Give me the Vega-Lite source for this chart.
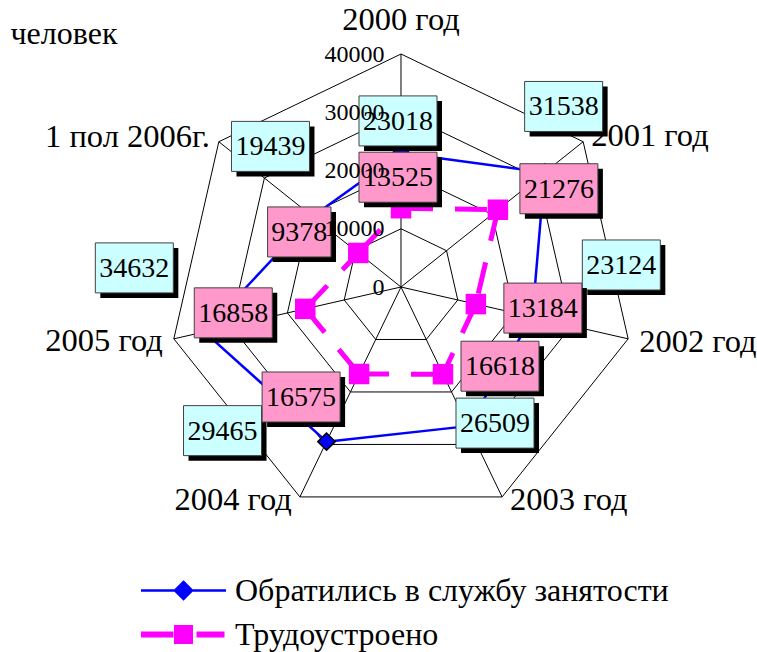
{
"$schema":"https://vega.github.io/schema/vega-lite/v6.json",
"width":757,"height":652,"autosize":{"type":"none"},"padding":0,
"background":"white",
"config":{"view":{"stroke":null},"font":"Liberation Serif"},
"datasets":{
 "series":[
  {"s":"Обратились в службу занятости","k":0,"v":23018},
  {"s":"Обратились в службу занятости","k":1,"v":31538},
  {"s":"Обратились в службу занятости","k":2,"v":23124},
  {"s":"Обратились в службу занятости","k":3,"v":26509},
  {"s":"Обратились в службу занятости","k":4,"v":29465},
  {"s":"Обратились в службу занятости","k":5,"v":34632},
  {"s":"Обратились в службу занятости","k":6,"v":19439},
  {"s":"Трудоустроено","k":0,"v":13525},
  {"s":"Трудоустроено","k":1,"v":21276},
  {"s":"Трудоустроено","k":2,"v":13184},
  {"s":"Трудоустроено","k":3,"v":16618},
  {"s":"Трудоустроено","k":4,"v":16575},
  {"s":"Трудоустроено","k":5,"v":16858},
  {"s":"Трудоустроено","k":6,"v":9378}
 ],
 "cats":[
  {"cat":"2000 год","k":0},{"cat":"2001 год","k":1},{"cat":"2002 год","k":2},{"cat":"2003 год","k":3},
  {"cat":"2004 год","k":4},{"cat":"2005 год","k":5},{"cat":"1 пол 2006г.","k":6}
 ],
 "grid":[
  {"lvl":10000,"k":0},{"lvl":10000,"k":1},{"lvl":10000,"k":2},{"lvl":10000,"k":3},{"lvl":10000,"k":4},{"lvl":10000,"k":5},{"lvl":10000,"k":6},
  {"lvl":20000,"k":0},{"lvl":20000,"k":1},{"lvl":20000,"k":2},{"lvl":20000,"k":3},{"lvl":20000,"k":4},{"lvl":20000,"k":5},{"lvl":20000,"k":6},
  {"lvl":30000,"k":0},{"lvl":30000,"k":1},{"lvl":30000,"k":2},{"lvl":30000,"k":3},{"lvl":30000,"k":4},{"lvl":30000,"k":5},{"lvl":30000,"k":6},
  {"lvl":40000,"k":0},{"lvl":40000,"k":1},{"lvl":40000,"k":2},{"lvl":40000,"k":3},{"lvl":40000,"k":4},{"lvl":40000,"k":5},{"lvl":40000,"k":6}
 ]
},
"encoding":{
 "x":{"field":"px","type":"quantitative","scale":{"domain":[-68841.2,61115.9],"nice":false,"zero":false},
  "axis":{"orient":"top","title":"человек","labels":false,"ticks":false,"domain":false,"grid":false,"titleX":10,"titleY":43,"titleAlign":"left","titleBaseline":"alphabetic","titleAngle":0,"titleFont":"Liberation Serif","titleFontSize":32,"titleFontWeight":"normal","titleColor":"black"}},
 "y":{"field":"py","type":"quantitative","scale":{"domain":[-62660.9,49270.4],"nice":false,"zero":false},
  "axis":{"orient":"left","offset":-384,"values":[0,10000,20000,30000,40000],"format":"d","title":null,"ticks":false,"tickSize":0,"domain":false,"grid":false,"labelPadding":0,"labelFont":"Liberation Serif","labelFontSize":24,"labelColor":"black","labelOverlap":false,"labelFlush":false,"labelAlign":"right","labelBaseline":"middle","zindex":2}}
},
"layer":[
 {"data":{"name":"grid"},
  "transform":[{"calculate":"datum.lvl*sin(2*PI*datum.k/7)","as":"px"},{"calculate":"datum.lvl*cos(2*PI*datum.k/7)","as":"py"}],
  "mark":{"type":"line","interpolate":"linear-closed","stroke":"black","strokeWidth":1},
  "encoding":{"detail":{"field":"lvl","type":"nominal"},"order":{"field":"k","type":"quantitative"}}},
 {"data":{"name":"cats"},
  "transform":[{"calculate":"40000*sin(2*PI*datum.k/7)","as":"px"},{"calculate":"40000*cos(2*PI*datum.k/7)","as":"py"}],
  "layer":[
   {"mark":{"type":"rule","stroke":"black","strokeWidth":1},"encoding":{"x2":{"datum":0},"y2":{"datum":0}}},
   {"transform":[{"filter":"datum.k==0"}],"mark":{"type":"text","align":"center","baseline":"alphabetic","fontSize":32.5,"font":"Liberation Serif","color":"black","dy":-24},"encoding":{"text":{"field":"cat"}}},
   {"transform":[{"filter":"datum.k==1"}],"mark":{"type":"text","align":"left","baseline":"alphabetic","fontSize":32.5,"font":"Liberation Serif","color":"black","dx":8,"dy":4},"encoding":{"text":{"field":"cat"}}},
   {"transform":[{"filter":"datum.k==2"}],"mark":{"type":"text","align":"left","baseline":"alphabetic","fontSize":32.5,"font":"Liberation Serif","color":"black","dx":11,"dy":13},"encoding":{"text":{"field":"cat"}}},
   {"transform":[{"filter":"datum.k==3"}],"mark":{"type":"text","align":"left","baseline":"alphabetic","fontSize":32.5,"font":"Liberation Serif","color":"black","dx":8,"dy":13},"encoding":{"text":{"field":"cat"}}},
   {"transform":[{"filter":"datum.k==4"}],"mark":{"type":"text","align":"right","baseline":"alphabetic","fontSize":32.5,"font":"Liberation Serif","color":"black","dx":-8,"dy":13},"encoding":{"text":{"field":"cat"}}},
   {"transform":[{"filter":"datum.k==5"}],"mark":{"type":"text","align":"right","baseline":"alphabetic","fontSize":32.5,"font":"Liberation Serif","color":"black","dx":-11,"dy":12},"encoding":{"text":{"field":"cat"}}},
   {"transform":[{"filter":"datum.k==6"}],"mark":{"type":"text","align":"right","baseline":"alphabetic","fontSize":32.5,"font":"Liberation Serif","color":"black","dx":-9,"dy":5},"encoding":{"text":{"field":"cat"}}}
  ]},
 {"data":{"name":"series"},
  "transform":[{"calculate":"datum.v*sin(2*PI*datum.k/7)","as":"px"},{"calculate":"datum.v*cos(2*PI*datum.k/7)","as":"py"}],
  "layer":[
   {"transform":[
     {"window":[{"op":"lead","field":"px","as":"lx"},{"op":"lead","field":"py","as":"ly"},{"op":"first_value","field":"px","as":"fx"},{"op":"first_value","field":"py","as":"fy"}],"groupby":["s"],"sort":[{"field":"k","order":"ascending"}],"frame":[null,null]},
     {"calculate":"isValid(datum.lx)?datum.lx:datum.fx","as":"nx"},
     {"calculate":"isValid(datum.ly)?datum.ly:datum.fy","as":"ny"}],
    "encoding":{
     "x2":{"field":"nx"},"y2":{"field":"ny"},
     "color":{"field":"s","type":"nominal","scale":{"domain":["Обратились в службу занятости","Трудоустроено"],"range":["#0000FF","#FF00FF"]},
      "legend":{"title":null,"orient":"none","legendX":167.5,"legendY":574.5,"direction":"vertical","padding":0,"symbolSize":400,"symbolStrokeWidth":2.5,"labelFont":"Liberation Serif","labelFontSize":32,"labelColor":"black","labelOffset":35.5,"labelLimit":0,"rowPadding":9,
       "encode":{"symbols":{"update":{
        "shape":{"signal":"datum.value==='Трудоустроено' ? 'M-4.25,0H-1M1.3,0H4.1M-0.65,-0.65H0.65V0.65H-0.65Z' : 'M-4.25,0H4.25M0,-0.85L0.85,0L0,0.85L-0.85,0Z'"},
        "fill":{"signal":"datum.value==='Трудоустроено' ? '#FF00FF' : '#0000FF'"},
        "stroke":{"signal":"datum.value==='Трудоустроено' ? '#FF00FF' : '#0000FF'"},
        "strokeWidth":{"signal":"datum.value==='Трудоустроено' ? 6 : 2.5"},
        "opacity":{"value":1},"fillOpacity":{"value":1},"strokeOpacity":{"value":1},"strokeCap":{"value":"butt"}}}}}}},
    "layer":[
     {"transform":[{"filter":"datum.s==='Обратились в службу занятости'"}],"mark":{"type":"rule","strokeWidth":2.5}},
     {"transform":[{"filter":"datum.s==='Трудоустроено'"}],"mark":{"type":"rule","strokeWidth":5,"strokeDash":[32,22],"strokeCap":"butt"}}
    ]},
   {"transform":[{"filter":"datum.s==='Обратились в службу занятости'"}],"mark":{"type":"point","shape":"diamond","size":300,"filled":true,"fill":"#0000FF","stroke":"black","strokeWidth":1.5,"opacity":1}},
   {"transform":[{"filter":"datum.s==='Трудоустроено'"}],"mark":{"type":"point","shape":"square","size":420,"filled":true,"fill":"#FF00FF","opacity":1}},

   {"transform":[{"filter":"datum.v==23018"}],"layer":[
    {"mark":{"type":"point","shape":"M-1,-0.641H1V0.641H-1Z","size":6084,"filled":true,"fill":"black","opacity":1,"xOffset":2,"yOffset":-27}},
    {"mark":{"type":"point","shape":"M-1,-0.641H1V0.641H-1Z","size":6084,"filled":true,"fill":"#CCFFFF","stroke":"#404040","strokeWidth":1,"opacity":1,"xOffset":-3,"yOffset":-32}},
    {"mark":{"type":"text","fontSize":28,"font":"Liberation Serif","color":"black","align":"center","baseline":"alphabetic","xOffset":-3,"yOffset":-23},"encoding":{"text":{"field":"v","type":"quantitative","format":"d"}}}]},
   {"transform":[{"filter":"datum.v==31538"}],"layer":[
    {"mark":{"type":"point","shape":"M-1,-0.641H1V0.641H-1Z","size":6084,"filled":true,"fill":"black","opacity":1,"xOffset":24,"yOffset":-61}},
    {"mark":{"type":"point","shape":"M-1,-0.641H1V0.641H-1Z","size":6084,"filled":true,"fill":"#CCFFFF","stroke":"#404040","strokeWidth":1,"opacity":1,"xOffset":19,"yOffset":-66}},
    {"mark":{"type":"text","fontSize":28,"font":"Liberation Serif","color":"black","align":"center","baseline":"alphabetic","xOffset":19,"yOffset":-57},"encoding":{"text":{"field":"v","type":"quantitative","format":"d"}}}]},
   {"transform":[{"filter":"datum.v==23124"}],"layer":[
    {"mark":{"type":"point","shape":"M-1,-0.641H1V0.641H-1Z","size":6084,"filled":true,"fill":"black","opacity":1,"xOffset":94,"yOffset":-47}},
    {"mark":{"type":"point","shape":"M-1,-0.641H1V0.641H-1Z","size":6084,"filled":true,"fill":"#CCFFFF","stroke":"#404040","strokeWidth":1,"opacity":1,"xOffset":89,"yOffset":-52}},
    {"mark":{"type":"text","fontSize":28,"font":"Liberation Serif","color":"black","align":"center","baseline":"alphabetic","xOffset":89,"yOffset":-43},"encoding":{"text":{"field":"v","type":"quantitative","format":"d"}}}]},
   {"transform":[{"filter":"datum.v==26509"}],"layer":[
    {"mark":{"type":"point","shape":"M-1,-0.641H1V0.641H-1Z","size":6084,"filled":true,"fill":"black","opacity":1,"xOffset":32,"yOffset":2}},
    {"mark":{"type":"point","shape":"M-1,-0.641H1V0.641H-1Z","size":6084,"filled":true,"fill":"#CCFFFF","stroke":"#404040","strokeWidth":1,"opacity":1,"xOffset":27,"yOffset":-3}},
    {"mark":{"type":"text","fontSize":28,"font":"Liberation Serif","color":"black","align":"center","baseline":"alphabetic","xOffset":27,"yOffset":6},"encoding":{"text":{"field":"v","type":"quantitative","format":"d"}}}]},
   {"transform":[{"filter":"datum.v==29465"}],"layer":[
    {"mark":{"type":"point","shape":"M-1,-0.641H1V0.641H-1Z","size":6084,"filled":true,"fill":"black","opacity":1,"xOffset":-99,"yOffset":-6}},
    {"mark":{"type":"point","shape":"M-1,-0.641H1V0.641H-1Z","size":6084,"filled":true,"fill":"#CCFFFF","stroke":"#404040","strokeWidth":1,"opacity":1,"xOffset":-104,"yOffset":-11}},
    {"mark":{"type":"text","fontSize":28,"font":"Liberation Serif","color":"black","align":"center","baseline":"alphabetic","xOffset":-104,"yOffset":-2},"encoding":{"text":{"field":"v","type":"quantitative","format":"d"}}}]},
   {"transform":[{"filter":"datum.v==34632"}],"layer":[
    {"mark":{"type":"point","shape":"M-1,-0.641H1V0.641H-1Z","size":6084,"filled":true,"fill":"black","opacity":1,"xOffset":-65,"yOffset":-59}},
    {"mark":{"type":"point","shape":"M-1,-0.641H1V0.641H-1Z","size":6084,"filled":true,"fill":"#CCFFFF","stroke":"#404040","strokeWidth":1,"opacity":1,"xOffset":-70,"yOffset":-64}},
    {"mark":{"type":"text","fontSize":28,"font":"Liberation Serif","color":"black","align":"center","baseline":"alphabetic","xOffset":-70,"yOffset":-55},"encoding":{"text":{"field":"v","type":"quantitative","format":"d"}}}]},
   {"transform":[{"filter":"datum.v==19439"}],"layer":[
    {"mark":{"type":"point","shape":"M-1,-0.641H1V0.641H-1Z","size":6084,"filled":true,"fill":"black","opacity":1,"xOffset":-37,"yOffset":-65}},
    {"mark":{"type":"point","shape":"M-1,-0.641H1V0.641H-1Z","size":6084,"filled":true,"fill":"#CCFFFF","stroke":"#404040","strokeWidth":1,"opacity":1,"xOffset":-42,"yOffset":-70}},
    {"mark":{"type":"text","fontSize":28,"font":"Liberation Serif","color":"black","align":"center","baseline":"alphabetic","xOffset":-42,"yOffset":-61},"encoding":{"text":{"field":"v","type":"quantitative","format":"d"}}}]},

   {"transform":[{"filter":"datum.v==13525"}],"layer":[
    {"mark":{"type":"point","shape":"M-1,-0.641H1V0.641H-1Z","size":6084,"filled":true,"fill":"black","opacity":1,"xOffset":2,"yOffset":-26}},
    {"mark":{"type":"point","shape":"M-1,-0.641H1V0.641H-1Z","size":6084,"filled":true,"fill":"#FF99CC","stroke":"#404040","strokeWidth":1,"opacity":1,"xOffset":-3,"yOffset":-31}},
    {"mark":{"type":"text","fontSize":28,"font":"Liberation Serif","color":"black","align":"center","baseline":"alphabetic","xOffset":-3,"yOffset":-22},"encoding":{"text":{"field":"v","type":"quantitative","format":"d"}}}]},
   {"transform":[{"filter":"datum.v==21276"}],"layer":[
    {"mark":{"type":"point","shape":"M-1,-0.641H1V0.641H-1Z","size":6084,"filled":true,"fill":"black","opacity":1,"xOffset":66,"yOffset":-16}},
    {"mark":{"type":"point","shape":"M-1,-0.641H1V0.641H-1Z","size":6084,"filled":true,"fill":"#FF99CC","stroke":"#404040","strokeWidth":1,"opacity":1,"xOffset":61,"yOffset":-21}},
    {"mark":{"type":"text","fontSize":28,"font":"Liberation Serif","color":"black","align":"center","baseline":"alphabetic","xOffset":61,"yOffset":-12},"encoding":{"text":{"field":"v","type":"quantitative","format":"d"}}}]},
   {"transform":[{"filter":"datum.v==13184"}],"layer":[
    {"mark":{"type":"point","shape":"M-1,-0.641H1V0.641H-1Z","size":6084,"filled":true,"fill":"black","opacity":1,"xOffset":72,"yOffset":9}},
    {"mark":{"type":"point","shape":"M-1,-0.641H1V0.641H-1Z","size":6084,"filled":true,"fill":"#FF99CC","stroke":"#404040","strokeWidth":1,"opacity":1,"xOffset":67,"yOffset":4}},
    {"mark":{"type":"text","fontSize":28,"font":"Liberation Serif","color":"black","align":"center","baseline":"alphabetic","xOffset":67,"yOffset":13},"encoding":{"text":{"field":"v","type":"quantitative","format":"d"}}}]},
   {"transform":[{"filter":"datum.v==16618"}],"layer":[
    {"mark":{"type":"point","shape":"M-1,-0.641H1V0.641H-1Z","size":6084,"filled":true,"fill":"black","opacity":1,"xOffset":62,"yOffset":-3}},
    {"mark":{"type":"point","shape":"M-1,-0.641H1V0.641H-1Z","size":6084,"filled":true,"fill":"#FF99CC","stroke":"#404040","strokeWidth":1,"opacity":1,"xOffset":57,"yOffset":-8}},
    {"mark":{"type":"text","fontSize":28,"font":"Liberation Serif","color":"black","align":"center","baseline":"alphabetic","xOffset":57,"yOffset":1},"encoding":{"text":{"field":"v","type":"quantitative","format":"d"}}}]},
   {"transform":[{"filter":"datum.v==16575"}],"layer":[
    {"mark":{"type":"point","shape":"M-1,-0.641H1V0.641H-1Z","size":6084,"filled":true,"fill":"black","opacity":1,"xOffset":-53,"yOffset":28}},
    {"mark":{"type":"point","shape":"M-1,-0.641H1V0.641H-1Z","size":6084,"filled":true,"fill":"#FF99CC","stroke":"#404040","strokeWidth":1,"opacity":1,"xOffset":-58,"yOffset":23}},
    {"mark":{"type":"text","fontSize":28,"font":"Liberation Serif","color":"black","align":"center","baseline":"alphabetic","xOffset":-58,"yOffset":32},"encoding":{"text":{"field":"v","type":"quantitative","format":"d"}}}]},
   {"transform":[{"filter":"datum.v==16858"}],"layer":[
    {"mark":{"type":"point","shape":"M-1,-0.641H1V0.641H-1Z","size":6084,"filled":true,"fill":"black","opacity":1,"xOffset":-67,"yOffset":9}},
    {"mark":{"type":"point","shape":"M-1,-0.641H1V0.641H-1Z","size":6084,"filled":true,"fill":"#FF99CC","stroke":"#404040","strokeWidth":1,"opacity":1,"xOffset":-72,"yOffset":4}},
    {"mark":{"type":"text","fontSize":28,"font":"Liberation Serif","color":"black","align":"center","baseline":"alphabetic","xOffset":-72,"yOffset":13},"encoding":{"text":{"field":"v","type":"quantitative","format":"d"}}}]},
   {"transform":[{"filter":"datum.v==9378"}],"layer":[
    {"mark":{"type":"point","shape":"M-1,-0.789H1V0.789H-1Z","size":4020,"filled":true,"fill":"black","opacity":1,"xOffset":-54,"yOffset":-16}},
    {"mark":{"type":"point","shape":"M-1,-0.789H1V0.789H-1Z","size":4020,"filled":true,"fill":"#FF99CC","stroke":"#404040","strokeWidth":1,"opacity":1,"xOffset":-59,"yOffset":-21}},
    {"mark":{"type":"text","fontSize":28,"font":"Liberation Serif","color":"black","align":"center","baseline":"alphabetic","xOffset":-59,"yOffset":-12},"encoding":{"text":{"field":"v","type":"quantitative","format":"d"}}}]}
  ]}
]
}
